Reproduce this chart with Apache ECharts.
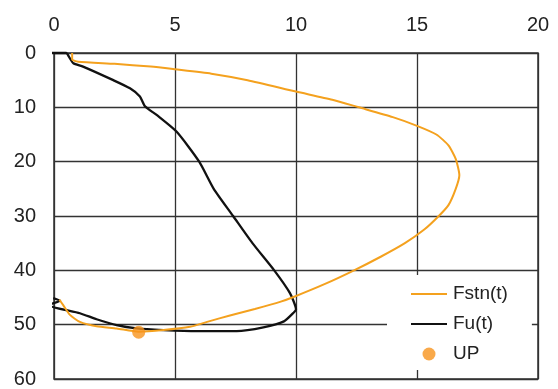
<!DOCTYPE html>
<html>
<head>
<meta charset="utf-8">
<script src="https://cdn.jsdelivr.net/npm/echarts@6/dist/echarts.min.js"></script>
<style>
  html, body { margin: 0; padding: 0; background: #fff; }
  #chart { width: 558px; height: 389px; }
</style>
</head>
<body>
<div id="chart"></div>
<script>
// Depth profiles: force value (x, top axis) against depth (y, growing downward)
const xTicks = [0, 5, 10, 15, 20];
const yTicks = [0, 10, 20, 30, 40, 50, 60];

const fstnX = [0.75, 0.75, 1.0, 2.5, 4.0, 5.0, 6.5, 8.0, 10.0, 11.5, 12.6, 14.0, 15.0, 15.8, 16.3, 16.6, 16.75, 16.6, 16.3, 15.9, 15.3, 14.5, 13.5, 12.4, 11.2, 9.9, 9.34, 8.3, 7.27, 6.4, 5.62, 4.52, 3.49, 2.59, 1.76, 1.07, 0.66, 0.38, 0.22];
const fstnY = [0, 1.2, 1.6, 2.0, 2.5, 3.0, 3.8, 5.0, 7.1, 8.6, 10.0, 11.8, 13.4, 15.0, 17.0, 19.5, 22.5, 25.0, 28.0, 30.0, 32.5, 35.0, 37.5, 40.0, 42.5, 44.9, 45.8, 47.1, 48.3, 49.4, 50.4, 51.0, 51.3, 50.7, 50.3, 49.5, 48.2, 46.4, 45.4];

const fuX = [-0.3, 0.5, 0.66, 0.8, 1.2, 2.45, 3.14, 3.55, 3.76, 4.24, 5.07, 6.0, 6.6, 7.4, 8.2, 9.1, 9.75, 10.0, 9.9, 9.5, 8.65, 7.55, 5.9, 4.52, 3.42, 2.59, 1.76, 1.07, -0.23, 0.25, -0.03];
const fuY = [0, 0, 1.0, 1.9, 2.5, 5.0, 6.5, 8.0, 9.8, 11.4, 14.5, 20.0, 25.0, 30.0, 35.0, 40.0, 44.2, 47.2, 47.8, 49.4, 50.5, 51.2, 51.2, 51.0, 50.7, 50.1, 49.0, 47.9, 46.4, 45.6, 45.1];

const upX = [3.5];
const upY = [51.4];

const seriesNames = ['Fstn(t)', 'Fu(t)', 'UP'];

const pairs = (xs, ys) => xs.map((x, i) => [x, ys[i]]);

const ORANGE_LINE = '#F4A11E';
const ORANGE_DOT = '#F7941D';
const INK = '#222';
const FONT = '"Liberation Sans", Arial, sans-serif';
// thin bar used as the legend marker of the two curves
const LINE_ICON = 'path://M0,0H36V2.2H0Z';

const chart = echarts.init(document.getElementById('chart'), null, { renderer: 'canvas' });

chart.setOption({
  animation: false,
  backgroundColor: '#fff',
  grid: {
    left: 54, right: 20, top: 53, bottom: 10,
    show: true, borderColor: '#333', borderWidth: 1.5, backgroundColor: 'transparent'
  },
  xAxis: {
    type: 'value',
    position: 'top',
    min: xTicks[0], max: xTicks[xTicks.length - 1], interval: xTicks[1] - xTicks[0],
    axisLine: { show: false },
    axisTick: { show: false },
    axisLabel: { color: INK, fontSize: 20, fontFamily: FONT, margin: 18 },
    splitLine: { show: true, lineStyle: { color: '#333', width: 1.3 } }
  },
  yAxis: {
    type: 'value',
    inverse: true,
    min: yTicks[0], max: yTicks[yTicks.length - 1], interval: yTicks[1] - yTicks[0],
    axisLine: { show: false },
    axisTick: { show: false },
    axisLabel: { color: INK, fontSize: 20, fontFamily: FONT, margin: 18 },
    splitLine: { show: true, lineStyle: { color: '#333', width: 1.3 } }
  },
  legend: {
    orient: 'vertical',
    left: 387, top: 275,
    padding: [9, 24, 6, 24],
    backgroundColor: '#fff',
    itemWidth: 36, itemHeight: 13, itemGap: 10,
    textStyle: { color: INK, fontSize: 19, fontFamily: FONT, lineHeight: 20, padding: [0, 0, 0, 1] },
    data: [
      { name: seriesNames[0], icon: LINE_ICON, itemStyle: { color: ORANGE_LINE } },
      { name: seriesNames[1], icon: LINE_ICON, itemStyle: { color: '#111' } },
      { name: seriesNames[2], icon: 'circle' }
    ]
  },
  series: [
    {
      name: seriesNames[1], type: 'line', data: pairs(fuX, fuY),
      symbol: 'none', clip: false, smooth: 0.2,
      lineStyle: { color: '#111', width: 2.3 }, itemStyle: { color: '#111' }, z: 2
    },
    {
      name: seriesNames[0], type: 'line', data: pairs(fstnX, fstnY),
      symbol: 'none', clip: false, smooth: 0.2,
      lineStyle: { color: ORANGE_LINE, width: 2 }, itemStyle: { color: ORANGE_LINE }, z: 3
    },
    {
      name: seriesNames[2], type: 'scatter', data: pairs(upX, upY),
      symbol: 'circle', symbolSize: 13,
      itemStyle: { color: ORANGE_DOT }, z: 4
    }
  ]
});
</script>
</body>
</html>
